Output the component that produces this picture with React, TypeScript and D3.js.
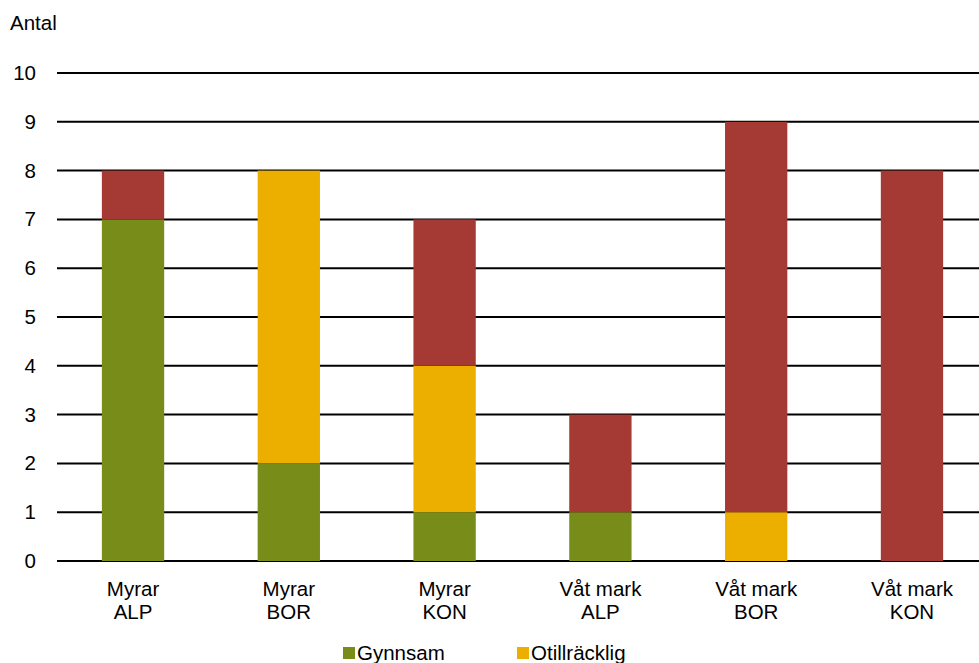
import React from "react";
import * as d3 from "d3";

const categories = [["Myrar", "ALP"], ["Myrar", "BOR"], ["Myrar", "KON"], ["Våt mark", "ALP"], ["Våt mark", "BOR"], ["Våt mark", "KON"]];
const gynnsam = [7, 2, 1, 1, 0, 0];
const otillracklig = [0, 6, 3, 0, 1, 0];
const dalig = [1, 0, 3, 2, 8, 8];
const seriesNames = ["Gynnsam", "Otillräcklig", "Dålig"];
const seriesColors = ["#788C19", "#ECAF00", "#A53A34"];
const yTicks = [0, 1, 2, 3, 4, 5, 6, 7, 8, 9, 10];

export default function App() {
  const W = 979, H = 663;
  const left = 57, right = 979, top = 73, bottom = 561;
  const fs = 20.5;
  const x = d3.scaleBand<number>().domain(d3.range(categories.length)).range([left, 988]).paddingInner(0.6).paddingOuter(0.288);
  const y = d3.scaleLinear().domain([0, 10]).range([bottom, top]);
  const rows = categories.map((_, i) => ({ i, Gynnsam: gynnsam[i], "Otillräcklig": otillracklig[i], "Dålig": dalig[i] }));
  const stack = d3.stack<any>().keys(seriesNames)(rows);
  const font = "Arial, 'Liberation Sans', sans-serif";
  const legendItems = [{ name: seriesNames[0], x: 343 }, { name: seriesNames[1], x: 517 }];
  return (
    <svg width={W} height={H} style={{ position: "absolute", left: 0, top: 0 }} fontFamily={font}>
      <rect width={W} height={H} fill="#fff" />
      <text x={10} y={30} fontSize={fs} fill="#000">Antal</text>
      {yTicks.map(t => (
        <g key={t}>
          <line x1={left} x2={right} y1={y(t)} y2={y(t)} stroke="#000" strokeWidth={2} />
          <text x={36} y={y(t) + 7} fontSize={fs} textAnchor="end" fill="#000">{t}</text>
        </g>
      ))}
      {stack.map((s, si) => (
        <g key={si} fill={seriesColors[si]}>
          {s.map((d, i) => d[1] - d[0] > 0 ? (
            <rect key={i} x={x(i)} width={x.bandwidth()} y={y(d[1])} height={y(d[0]) - y(d[1])} />
          ) : null)}
        </g>
      ))}
      {categories.map((c, i) => (
        <text key={i} textAnchor="middle" fontSize={fs} fill="#000">
          <tspan x={(x(i) as number) + x.bandwidth() / 2} y={596}>{c[0]}</tspan>
          <tspan x={(x(i) as number) + x.bandwidth() / 2} y={619}>{c[1]}</tspan>
        </text>
      ))}
      {legendItems.map((l, i) => (
        <g key={i}>
          <rect x={l.x} y={647} width={12} height={12} fill={seriesColors[i]} />
          <text x={l.x + 14} y={660} fontSize={fs} fill="#000">{l.name}</text>
        </g>
      ))}
    </svg>
  );
}
